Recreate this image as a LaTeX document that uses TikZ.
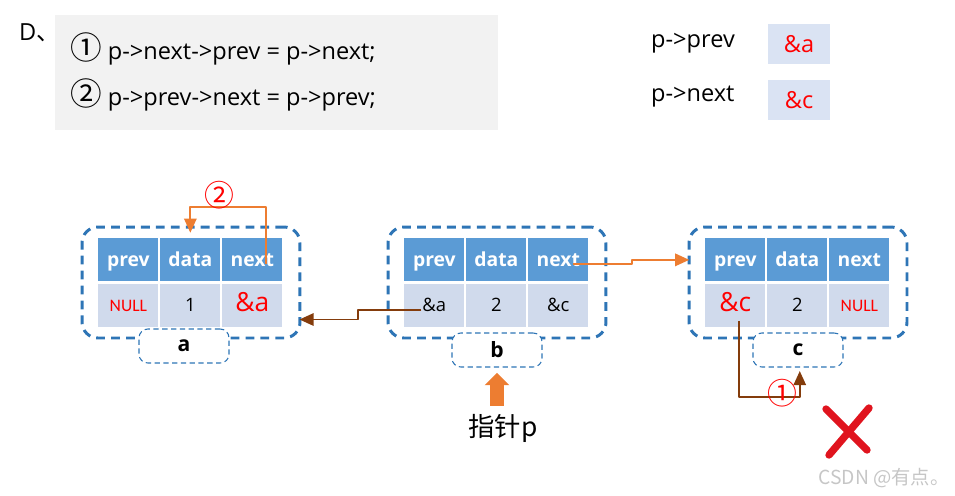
\documentclass[tikz,border=0pt]{standalone}
\usepackage{fontspec}
\setmainfont{Open Sans}
\newfontfamily\cjk{Noto Sans CJK SC}
\newfontfamily\narrow{Carlito}
\usetikzlibrary{calc, arrows.meta}
\definecolor{hdblue}{HTML}{5B9BD5}
\definecolor{cellblue}{HTML}{D0DAEC}
\definecolor{valblue}{HTML}{DAE3F3}
\definecolor{boxblue}{HTML}{2E75B6}
\definecolor{ptrorange}{HTML}{ED7D31}
\definecolor{ptrbrown}{HTML}{843C0C}
\definecolor{codegray}{HTML}{F2F2F2}
\definecolor{crossred}{HTML}{E0141E}

\newcommand\nulltxt{{\color{red}\narrow\fontsize{10}{12}\selectfont NULL}}
\newcommand\redaddr[1]{{\color{red}\fontsize{15}{17}\selectfont #1}}

\begin{document}
\begin{tikzpicture}[x=0.02cm, y=-0.02cm, line join=round,
    font=\fontsize{13.4}{16}\selectfont,
    head/.style={fill=hdblue, text=white, inner sep=0pt, anchor=north west,
      minimum width=1.2cm, minimum height=0.86cm, text height=1.6ex, text depth=0.2ex,
      font=\fontsize{11}{13}\selectfont\bfseries},
    cell/.style={fill=cellblue, inner sep=0pt, anchor=north west,
      minimum width=1.2cm, minimum height=0.86cm, text height=1.5ex, text depth=0.2ex,
      font=\fontsize{10.5}{13}\selectfont},
    nodebox/.style={draw=boxblue, line width=1.7pt, dash pattern=on 5pt off 3.5pt,
      rounded corners=9pt, minimum width=4.36cm, minimum height=2.22cm},
    namebox/.style={draw=boxblue, fill=white, line width=0.6pt, densely dashed,
      rounded corners=5pt, minimum width=1.8cm, minimum height=0.68cm,
      font=\fontsize{12}{14}\selectfont\bfseries},
    valbox/.style={fill=valblue, text=red, minimum width=1.24cm, minimum height=0.8cm},
    stepnum/.style={text=red, font=\fontsize{17}{17}\selectfont\cjk, inner sep=0pt},
    toorange/.style={draw=ptrorange, line width=1.1pt, -{Triangle[length=8pt, width=7pt]}},
    tobrown/.style={draw=ptrbrown, line width=1.1pt, -{Triangle[length=8pt, width=7pt]}}]

    \useasboundingbox (0,0) rectangle (955,495);

    % Option D and its two statements
    \node[anchor=west] (optd) at (13,33) {D{\cjk 、}};
    \fill[codegray] (55,15) rectangle (498,130);
    \node[anchor=west] (line1) at (64,49) {{\fontsize{18}{18}\selectfont\cjk ①} p->next->prev = p->next;};
    \node[anchor=west] (line2) at (64,95) {{\fontsize{18}{18}\selectfont\cjk ②} p->prev->next = p->prev;};

    % Pointer values
    \node[anchor=west] (pprev) at (645,43) {p->prev};
    \node[anchor=west] (pnext) at (645,97) {p->next};
    \node[valbox] (pprevv) at (799,44) {\&a};
    \node[valbox] (pnextv) at (799,100) {\&c};

    % The three list nodes a, b, c
    \foreach \nm/\lx/\vp/\vd/\vn in {a/98/{\nulltxt}/1/{\redaddr{\&a}},
                                     b/404/{\&a}/2/{\&c},
                                     c/705/{\redaddr{\&c}}/2/{\nulltxt}} {
      \node[nodebox] (\nm) at (\lx+93,282.5) {};
      \node[head] (\nm-hprev) at (\lx,238) {prev};
      \node[head] (\nm-hdata) at (\lx+62,238) {data};
      \node[head] (\nm-hnext) at (\lx+124,238) {next};
      \node[cell] (\nm-prev) at (\lx,284) {\vp};
      \node[cell] (\nm-data) at (\lx+62,284) {\vd};
      \node[cell] (\nm-next) at (\lx+124,284) {\vn};
    }
    \node[namebox] (a-lab) at (184,346) {a};
    \node[namebox] (b-lab) at (497,350) {b};
    \node[namebox] (c-lab) at (798,350) {c};

    % Links between the nodes
    \draw[tobrown] ($(b-prev.center)+(-13,4)$) -- ++(-63,0) |- ($(a.east)+(-2,37)$);
    \draw[toorange] ($(b-hnext.center)+(15,4)$) -- ++(59,0) |- ([xshift=1pt]c.west |- c-hprev.center);

    % Step 2: a->next back to a
    \draw[toorange] ($(a-hnext.center)+(14,4)$) -- ++(0,-57) -| ([yshift=3pt]a-hdata.north);
    \node[stepnum] (two) at (219,195) {②};

    % Step 1: c->prev to c
    \draw[tobrown] ($(c-prev.center)+(4,15)$) -- ++(0,76) -| ([xshift=1pt, yshift=-2pt]c-lab.south);
    \node[stepnum] (one) at (782,393) {①};

    % Pointer p
    \node[font=\fontsize{15}{18}\selectfont] (ptr) at (503,428) {\cjk 指针p};
    \draw[draw=ptrorange, line width=8pt, shorten <=1pt, shorten >=3pt,
      -{Triangle[length=7pt, width=13.6pt]}] (ptr.north -| b-lab.south) -- (b-lab.south);

    % Cross
    \draw[crossred, line width=4.2pt, line cap=round] (826,409) -- (867,450);
    \draw[crossred, line width=4.2pt, line cap=round] (869,408) -- (829,455);

    \node[text=gray!45, font=\fontsize{11}{13}\selectfont\cjk] (mark) at (884,478) {CSDN @有点。};

\end{tikzpicture}
\end{document}
